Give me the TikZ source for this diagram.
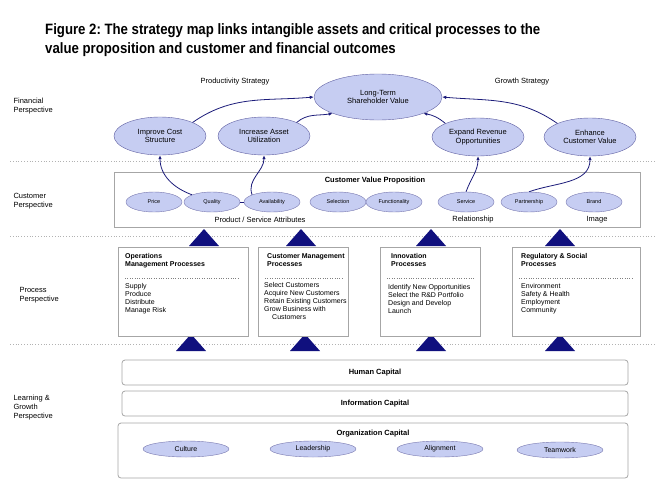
\documentclass[tikz,border=0pt]{standalone}
\usepackage{fontspec}
\setmainfont{Liberation Sans}
\usetikzlibrary{arrows.meta,shapes.geometric}
\definecolor{ell}{HTML}{C6CDF2}
\definecolor{nav}{HTML}{1C1C7A}
\definecolor{tri}{HTML}{10107E}
\begin{document}
\begin{tikzpicture}[x=1pt,y=-1pt,
 el/.style={ellipse,draw=nav!70,fill=ell,inner sep=0pt,align=center,font=\fontsize{7.5}{8.5}\selectfont},
 sel/.style={ellipse,draw=nav!60,fill=ell,minimum width=56,minimum height=20,inner sep=0pt,font=\fontsize{5.5}{6}\selectfont},
 oel/.style={ellipse,draw=nav!60,fill=ell,minimum width=86,minimum height=16,inner sep=0pt,font=\fontsize{7}{8}\selectfont},
 box/.style={draw=gray!70,thick,fill=white},
 arr/.style={draw=nav,thick,-{Latex[length=4pt,width=3.5pt]}},
 lab/.style={font=\fontsize{7.5}{9}\selectfont,align=left,anchor=west},
 dots/.style={gray!60,dotted,thick},
 tr/.style={fill=tri}]
\useasboundingbox (0,0) rectangle (666,490);
\node[anchor=west,font=\bfseries\fontsize{15}{19}\selectfont,align=left,inner sep=0pt] (title) at (45,40) {\addfontfeature{FakeStretch=0.88}Figure 2:\ The strategy map links intangible assets and critical processes to the\\\addfontfeature{FakeStretch=0.88}value proposition and customer and financial outcomes};
\draw[dots] (10,161) -- (655,161);
\draw[dots] (10,236) -- (655,236);
\draw[dots] (10,344) -- (655,344);
\node[lab] (p1) at (10,106) {Financial\\Perspective};
\node[lab] (p2) at (10,201) {Customer\\Perspective};
\node[lab] (p3) at (16,295) {Process\\Perspective};
\node[lab] (p4) at (10,408) {Learning \&\\Growth\\Perspective};
\node[font=\fontsize{7.5}{9}\selectfont] (ps) at (235,82) {Productivity Strategy};
\node[font=\fontsize{7.5}{9}\selectfont] (gs) at (522,82) {Growth Strategy};
\node[el,minimum width=128,minimum height=46] (lt) at (378,97) {Long-Term\\Shareholder Value};
\node[el,minimum width=92,minimum height=38] (ic) at (160,136) {Improve Cost\\Structure};
\node[el,minimum width=92,minimum height=38] (ia) at (264,136) {Increase Asset\\Utilization};
\node[el,minimum width=92,minimum height=38] (er) at (478,137) {Expand Revenue\\Opportunities};
\node[el,minimum width=92,minimum height=38] (ec) at (590,137) {Enhance\\Customer Value};
\draw[box] (114,172) rectangle (640,227);
\node[font=\bfseries\fontsize{7.5}{9}\selectfont] (cvp) at (375,181) {Customer Value Proposition};
\node[sel] (pr) at (154,202) {Price};
\node[sel] (qu) at (212,202) {Quality};
\node[sel] (av) at (272,202) {Availability};
\node[sel] (se) at (338,202) {Selection};
\node[sel] (fu) at (394,202) {Functionality};
\node[sel] (sv) at (466,202) {Service};
\node[sel] (pa) at (529,202) {Partnership};
\node[sel] (br) at (594,202) {Brand};
\draw[nav] (qu) -- (av);
\node[font=\fontsize{7.5}{9}\selectfont] (psa) at (260,220) {Product / Service Attributes};
\node[font=\fontsize{7.5}{9}\selectfont] (rel) at (473,220) {Relationship};
\node[font=\fontsize{7.5}{9}\selectfont] (img) at (597,220) {Image};
\draw[arr] (qu.north west) to[out=160,in=-90] (ic.south);
\draw[arr] (av.north west) to[out=110,in=-90] (ia.south);
\draw[arr] (sv.north) to[out=70,in=-90] (er.south);
\draw[arr] (pa.north) to[out=20,in=-90] (ec.south);
\draw[arr] (ic.north east) to[out=35,in=185] (lt.west);
\draw[arr] (ia.north east) to[out=40,in=190] (lt.south west);
\draw[arr] (er.north west) to[out=140,in=-10] (lt.south east);
\draw[arr] (ec.north west) to[out=145,in=-5] (lt.east);
\foreach \x in {204,301,431,560}{
 \fill[tri] (\x-15,246) -- (\x,229) -- (\x+15,246) -- cycle;}
\foreach \x in {191,305,431,560}{
 \fill[tri] (\x-15,351) -- (\x,334) -- (\x+15,351) -- cycle;}
\draw[box] (118,247) rectangle (248,336);
\draw[box] (258,247) rectangle (348,336);
\draw[box] (380,247) rectangle (480,336);
\draw[box] (512,247) rectangle (640,336);
\foreach \a/\b in {125/238,265/342,387/474,519/632}{\draw[gray,dotted] (\a,278) -- (\b,278);}
\node[anchor=north west,font=\bfseries\fontsize{7}{8}\selectfont,align=left,inner sep=0pt] (o1) at (125,253) {Operations\\Management Processes};
\node[anchor=north west,font=\fontsize{7}{8}\selectfont,align=left,inner sep=0pt] (o2) at (125,283) {Supply\\Produce\\Distribute\\Manage Risk};
\node[anchor=north west,font=\bfseries\fontsize{7}{8}\selectfont,align=left,inner sep=0pt] (c1) at (267,253) {Customer Management\\Processes};
\node[anchor=north west,font=\fontsize{7}{8}\selectfont,align=left,inner sep=0pt] (c2) at (264,282) {Select Customers\\Acquire New Customers\\Retain Existing Customers\\Grow Business with\\\hspace*{8pt}Customers};
\node[anchor=north west,font=\bfseries\fontsize{7}{8}\selectfont,align=left,inner sep=0pt] (i1) at (391,253) {Innovation\\Processes};
\node[anchor=north west,font=\fontsize{7}{8}\selectfont,align=left,inner sep=0pt] (i2) at (388,284) {Identify New Opportunities\\Select the R\&D Portfolio\\Design and Develop\\Launch};
\node[anchor=north west,font=\bfseries\fontsize{7}{8}\selectfont,align=left,inner sep=0pt] (r1) at (521,253) {Regulatory \& Social\\Processes};
\node[anchor=north west,font=\fontsize{7}{8}\selectfont,align=left,inner sep=0pt] (r2) at (521,283) {Environment\\Safety \& Health\\Employment\\Community};
\draw[box,rounded corners=3pt] (122,360) rectangle (628,385);
\node[font=\bfseries\fontsize{7.5}{9}\selectfont] (hc) at (375,373) {Human Capital};
\draw[box,rounded corners=3pt] (122,391) rectangle (628,416);
\node[font=\bfseries\fontsize{7.5}{9}\selectfont] (inf) at (375,404) {Information Capital};
\draw[box,rounded corners=3pt] (118,423) rectangle (628,478);
\node[font=\bfseries\fontsize{7.5}{9}\selectfont] (oc) at (373,434) {Organization Capital};
\node[oel] (cu) at (186,449) {Culture};
\node[oel] (le) at (313,449) {Leadership};
\node[oel] (al) at (440,449) {Alignment};
\node[oel] (tw) at (560,450) {Teamwork};
\end{tikzpicture}
\end{document}
